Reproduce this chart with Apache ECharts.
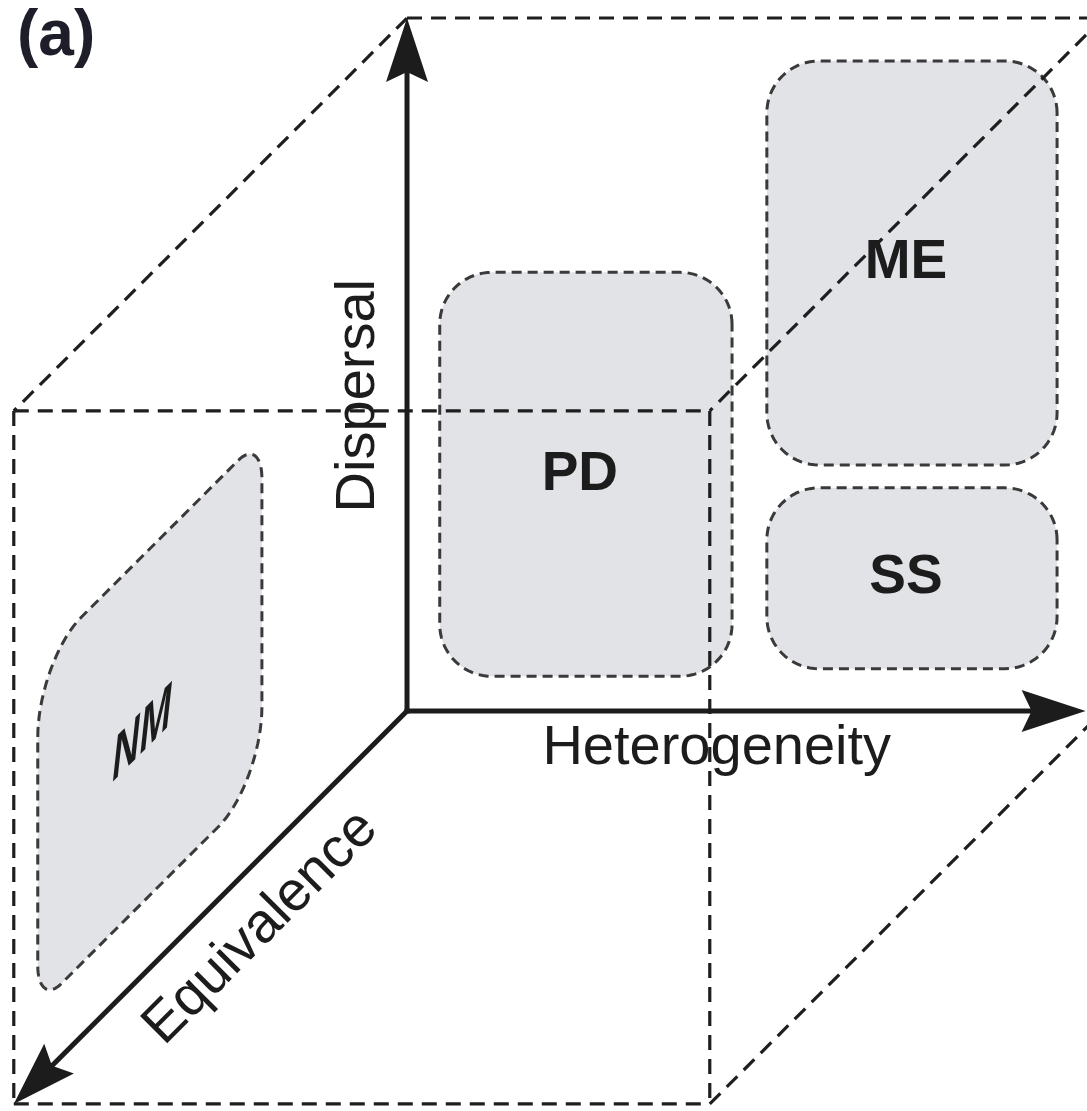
<!DOCTYPE html>
<html>
<head>
<meta charset="utf-8">
<title>Metacommunity paradigms</title>
<script src="https://cdn.jsdelivr.net/npm/echarts@6/dist/echarts.min.js"></script>
<style>html,body{margin:0;padding:0;background:#fff;}</style>
</head>
<body>
<div id="main" style="width:1087px;height:1111px;"></div>
<script type="text/javascript">
// axes of the conceptual space
var axisNames = ['Heterogeneity', 'Dispersal', 'Equivalence'];
var axisTips = [[0.975, 0, 0], [0, 1, 0], [0, 0, 1]];   // [h, d, e]

// paradigm regions: range on each axis (0..1)
var regionNames = ['PD', 'ME', 'SS', 'NM'];
var heteroRange = [[0.047, 0.467], [0.517, 0.934], [0.517, 0.934], [0, 0]];
var dispRange   = [[0.05, 0.633], [0.355, 0.938], [0.061, 0.322], [0.105, 0.605]];
var equivRange  = [[0, 0], [0, 0], [0, 0], [0.369, 0.939]];

// dashed box around the space
var cubeEdges = [
    [[0, 1, 0], [1, 1, 0]], [[0, 1, 0], [0, 1, 1]], [[1, 1, 0], [1, 1, 1]],
    [[0, 1, 1], [1, 1, 1]], [[0, 1, 1], [0, 0, 1]], [[0, 0, 1], [1, 0, 1]],
    [[1, 1, 1], [1, 0, 1]], [[1, 0, 1], [1, 0, 0]]
];

var FONT = '"Liberation Sans", Arial, Helvetica, sans-serif';
var INK = '#1c1c1c';
var KX = 0.565, KY = 0.567;   // oblique projection of the equivalence axis
function proj(p) { return [p[0] - KX * p[2], p[1] - KY * p[2]]; }

// rounded rectangle in a face, corner radii in order (u1,v1) (u0,v1) (u0,v0) (u1,v0)
function roundedOutline(u0, u1, v0, v1, radii, map) {
    var pts = [];
    var corners = [[u1, v1, 0, -1, -1], [u0, v1, 90, 1, -1], [u0, v0, 180, 1, 1], [u1, v0, 270, -1, 1]];
    corners.forEach(function (c, k) {
        var r = radii[k];
        var cx = c[0] + c[3] * r, cy = c[1] + c[4] * r;
        for (var a = 0; a <= 90; a += 5) {
            var t = (c[2] + a) * Math.PI / 180;
            pts.push(map(cx + r * Math.cos(t), cy + r * Math.sin(t)));
        }
    });
    return pts;
}

var myChart = echarts.init(document.getElementById('main'));

myChart.setOption({
    animation: false,
    title: {
        text: '(a)', left: 12, top: 0,
        textStyle: { fontSize: 64, fontWeight: 'bold', fontFamily: FONT, color: '#1e1e2a' }
    },
    grid: { left: 0, right: 0, top: 0, bottom: 0 },
    xAxis: { type: 'value', min: -0.5848, max: 0.977, show: false },
    yAxis: { type: 'value', min: -0.5772, max: 1.026, show: false },
    series: [
        {
            // regions
            type: 'custom',
            z: 1,
            data: regionNames.map(function (n, i) { return [i]; }),
            renderItem: function (params, api) {
                var i = api.value(0);
                var pts;
                if (equivRange[i][1] > 0) {
                    // lies on the dispersal-equivalence face
                    pts = roundedOutline(equivRange[i][0], equivRange[i][1], dispRange[i][0], dispRange[i][1],
                        [0.11, 0.06, 0.11, 0.06],
                        function (u, v) { return api.coord(proj([heteroRange[i][0], v, u])); });
                } else {
                    pts = roundedOutline(heteroRange[i][0], heteroRange[i][1], dispRange[i][0], dispRange[i][1],
                        [0.075, 0.075, 0.075, 0.075],
                        function (u, v) { return api.coord(proj([u, v, 0])); });
                }
                return {
                    type: 'polygon',
                    shape: { points: pts },
                    style: { fill: '#e1e3e6', stroke: '#3a3a3a', lineWidth: 3, lineDash: [10, 6] }
                };
            }
        },
        {
            // dashed box
            type: 'custom',
            z: 2,
            data: cubeEdges.map(function (e, i) { return [i]; }),
            renderItem: function (params, api) {
                var edge = cubeEdges[api.value(0)];
                var a = api.coord(proj(edge[0])), b = api.coord(proj(edge[1]));
                return {
                    type: 'line',
                    shape: { x1: a[0], y1: a[1], x2: b[0], y2: b[1] },
                    style: { stroke: '#1e1e1e', lineWidth: 3.2, lineDash: [15, 9] }
                };
            }
        },
        {
            // axis arrows
            type: 'custom',
            z: 3,
            data: axisNames.map(function (n, i) { return [i]; }),
            renderItem: function (params, api) {
                var o = api.coord(proj([0, 0, 0]));
                var t = api.coord(proj(axisTips[api.value(0)]));
                var dx = t[0] - o[0], dy = t[1] - o[1];
                var len = Math.sqrt(dx * dx + dy * dy);
                var ux = dx / len, uy = dy / len, nx = -uy, ny = ux;
                var L = 64, W = 21, notch = 10;
                var bx = t[0] - L * ux, by = t[1] - L * uy;
                var sx = t[0] - (L - notch) * ux, sy = t[1] - (L - notch) * uy;
                return {
                    type: 'group',
                    children: [
                        {
                            type: 'line',
                            shape: { x1: o[0], y1: o[1], x2: sx, y2: sy },
                            style: { stroke: INK, lineWidth: 5, lineCap: 'square' }
                        },
                        {
                            type: 'polygon',
                            shape: { points: [t, [bx + W * nx, by + W * ny], [sx, sy], [bx - W * nx, by - W * ny]] },
                            style: { fill: INK }
                        }
                    ]
                };
            }
        },
        {
            // axis names
            type: 'custom',
            z: 4,
            data: axisNames.map(function (n, i) { return [i]; }),
            renderItem: function (params, api) {
                var i = api.value(0);
                var at = [[0.445, -0.054, 0], [-0.07, 0.455, 0], [0.05, -0.052, 0.46]][i];
                var p = api.coord(proj(at));
                return {
                    type: 'text',
                    x: p[0], y: p[1],
                    rotation: [0, Math.PI / 2, Math.PI / 4][i],
                    style: {
                        text: axisNames[i], font: '56px ' + FONT, fill: INK,
                        align: 'center', verticalAlign: 'middle'
                    }
                };
            }
        },
        {
            // region labels
            type: 'custom',
            z: 5,
            data: regionNames.map(function (n, i) { return [i]; }),
            renderItem: function (params, api) {
                var i = api.value(0);
                var c = [
                    (heteroRange[i][0] + heteroRange[i][1]) / 2,
                    (dispRange[i][0] + dispRange[i][1]) / 2,
                    (equivRange[i][0] + equivRange[i][1]) / 2
                ];
                var p = api.coord(proj(c));
                var onFace = equivRange[i][1] > 0;
                return {
                    type: 'text',
                    x: onFace ? p[0] - 8 : p[0] - 6, y: onFace ? p[1] + 14 : p[1],
                    skewY: onFace ? Math.PI / 4 : 0,
                    scaleY: onFace ? 1.6 : 1,
                    style: {
                        text: regionNames[i],
                        font: (onFace ? 'italic bold 38px ' : 'bold 55px ') + FONT,
                        fill: INK, align: 'center', verticalAlign: 'middle'
                    }
                };
            }
        }
    ]
});
</script>
</body>
</html>
